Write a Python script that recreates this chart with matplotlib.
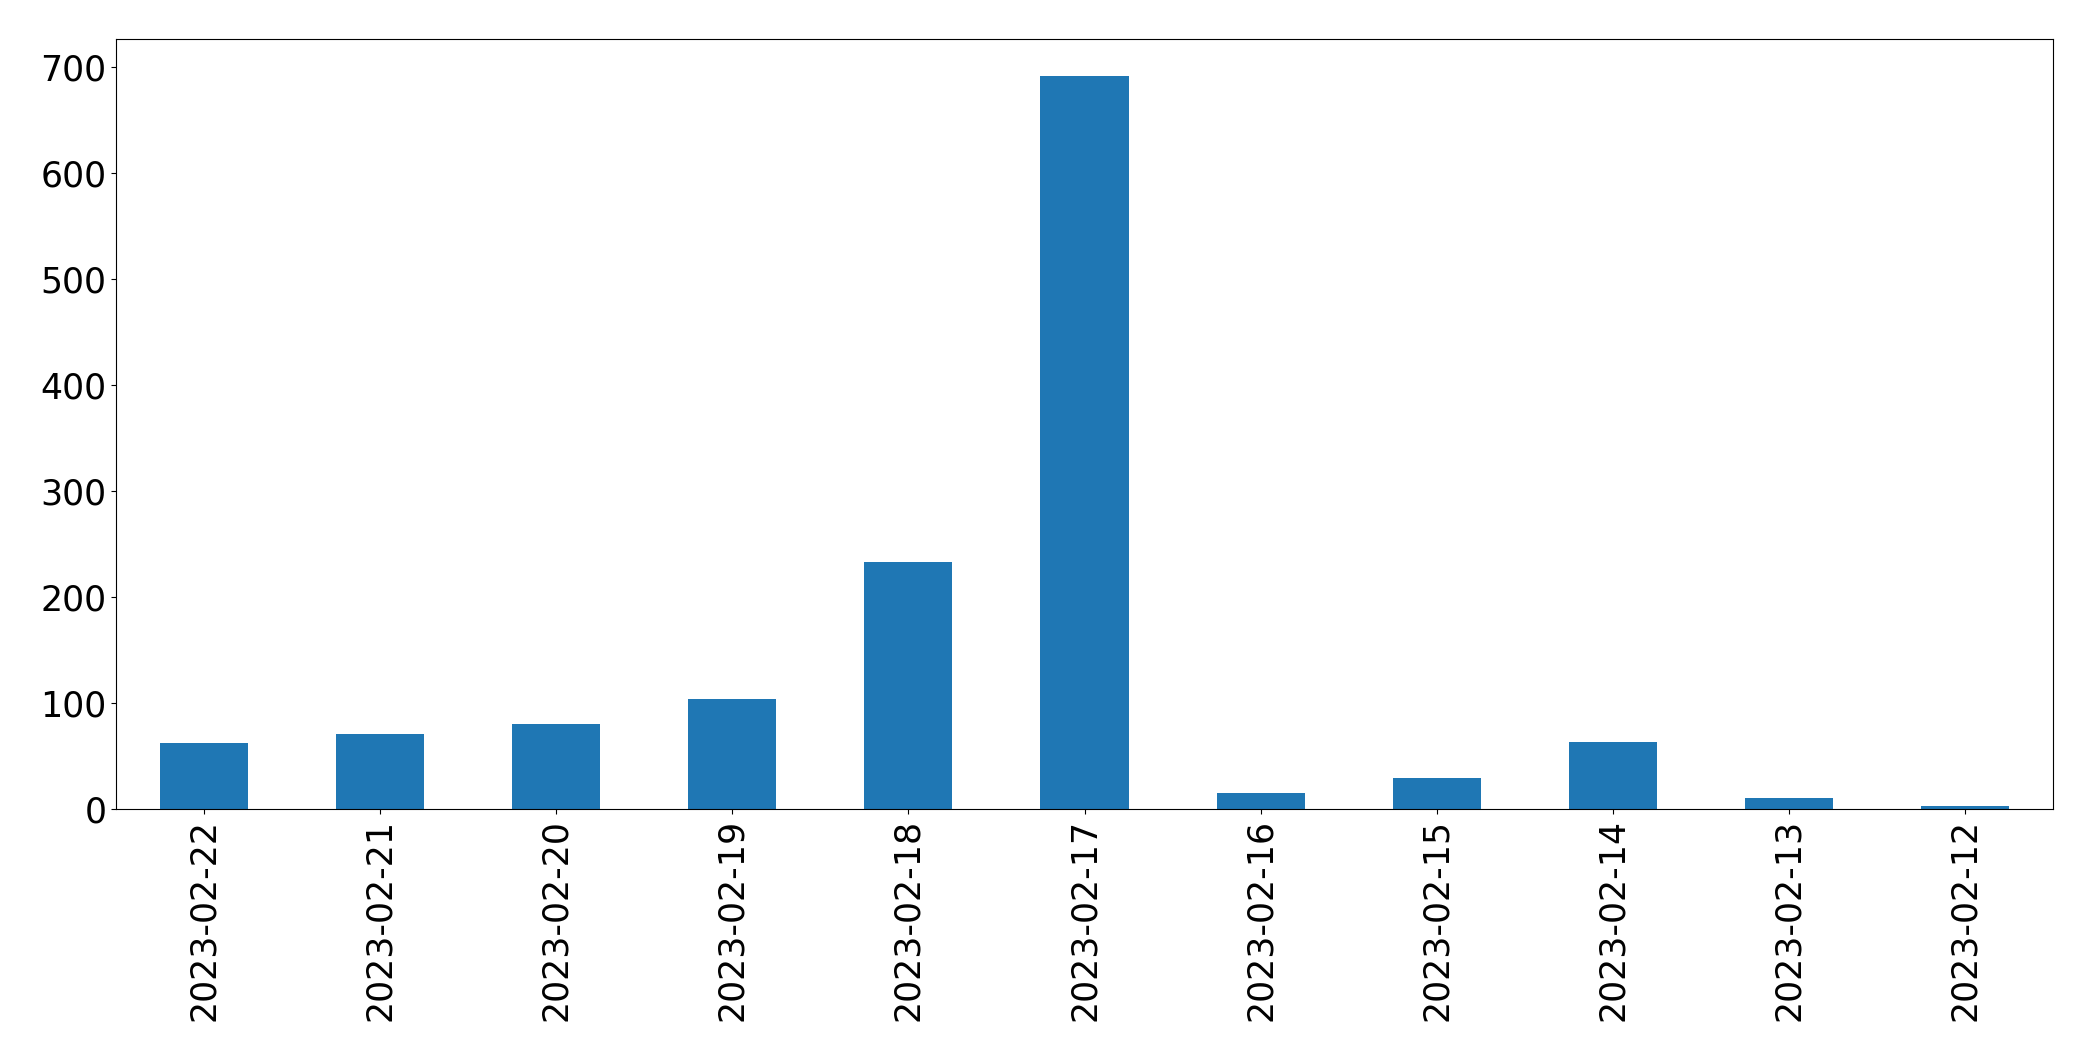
import numpy as np
import matplotlib
matplotlib.use("Agg")
import matplotlib.pyplot as plt

# Dados
datas = ["2023-02-22", "2023-02-21", "2023-02-20", "2023-02-19", "2023-02-18",
         "2023-02-17", "2023-02-16", "2023-02-15", "2023-02-14", "2023-02-13",
         "2023-02-12"]
contagens = [62, 71, 80, 104, 233, 692, 15, 29, 63, 10, 3]

fig = plt.figure(figsize=(20.93, 10.61), dpi=100)
ax = fig.add_axes([116 / 2093, 1 - 809 / 1061, 1937 / 2093, 770 / 1061])

x = np.arange(len(datas))
ax.bar(x, contagens, width=0.5, color="#1f77b4")
ax.set_xlim(-0.5, len(datas) - 0.5)
ax.set_xticks(x)
ax.set_xticklabels(datas, rotation=90)
ax.set_yticks(np.arange(0, 800, 100))
ax.tick_params(axis="both", labelsize=25)

fig.savefig("out.png", dpi=100)
